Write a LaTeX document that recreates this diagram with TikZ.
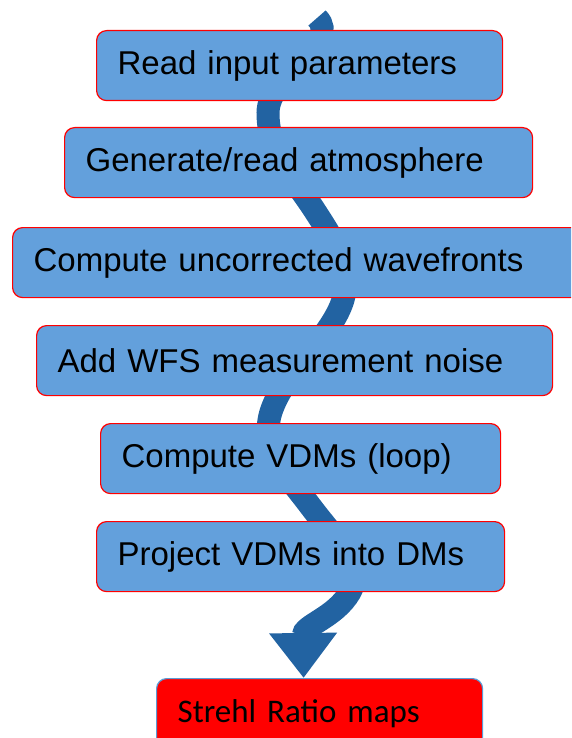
\documentclass[tikz,border=0pt]{standalone}
\usepackage{fontspec}
\setmainfont{Liberation Sans}
\newfontfamily\calibrifont{Carlito}
\usetikzlibrary{arrows.meta,backgrounds}

\definecolor{boxblue}{RGB}{99,160,220}
\definecolor{flowblue}{RGB}{34,99,162}
\definecolor{edgeblue}{RGB}{91,155,213}

\tikzset{
   stepbox/.style={draw=red, line width=1.2pt, fill=boxblue, rounded corners=10pt,
      anchor=north west, minimum height=70pt, inner xsep=21pt, inner ysep=0pt,
      align=left, font=\fontsize{33}{38}\selectfont},
   resultbox/.style={stepbox, draw=edgeblue, fill=red,
      font=\calibrifont\fontsize{33}{38}\selectfont},
   flowarrow/.style={draw=flowblue, line width=23pt, line cap=butt,
      -{Triangle[width=65pt,length=45pt]}},
}

\begin{document}
\begin{tikzpicture}[x=1pt, y=-1pt]
   \useasboundingbox (0,0) rectangle (571,738);
   \clip (0,0) rectangle (571,738);

   % Steps
   \node at (96,30) [stepbox, text width=364pt] (read) {Read input parameters};
   \node at (64,127) [stepbox, text width=426pt] (atmos) {Generate/read atmosphere};
   \node at (12,227) [stepbox, text width=538pt] (wave) {Compute uncorrected wavefronts};
   \node at (36,325) [stepbox, text width=474pt] (noise) {Add WFS measurement noise};
   \node at (100,423) [stepbox, text width=358pt] (vdm) {Compute VDMs (loop)};
   \node at (96,521) [stepbox, text width=366pt] (proj) {Project VDMs into DMs};

   % Result
   \node at (156,678) [resultbox, text width=284pt] (strehl) {Strehl Ratio maps};

   % Wavy flow arrow behind the steps
   \coordinate (tail) at (317,18);
   \begin{scope}[on background layer]
      \draw[flowarrow] (tail) .. controls (342,43) and (268,73) .. (268,113)
         .. controls (268,153) and (293,177) .. (315,211)
         .. controls (337,245) and (356,274) .. (339,310)
         .. controls (322,346) and (286,371) .. (272,409)
         .. controls (258,447) and (287,475) .. (311,507)
         .. controls (335,539) and (365,566) .. (350,592)
         .. controls (335,618) and (303,625) .. ([xshift=-16pt]strehl.north);
   \end{scope}

\end{tikzpicture}
\end{document}
